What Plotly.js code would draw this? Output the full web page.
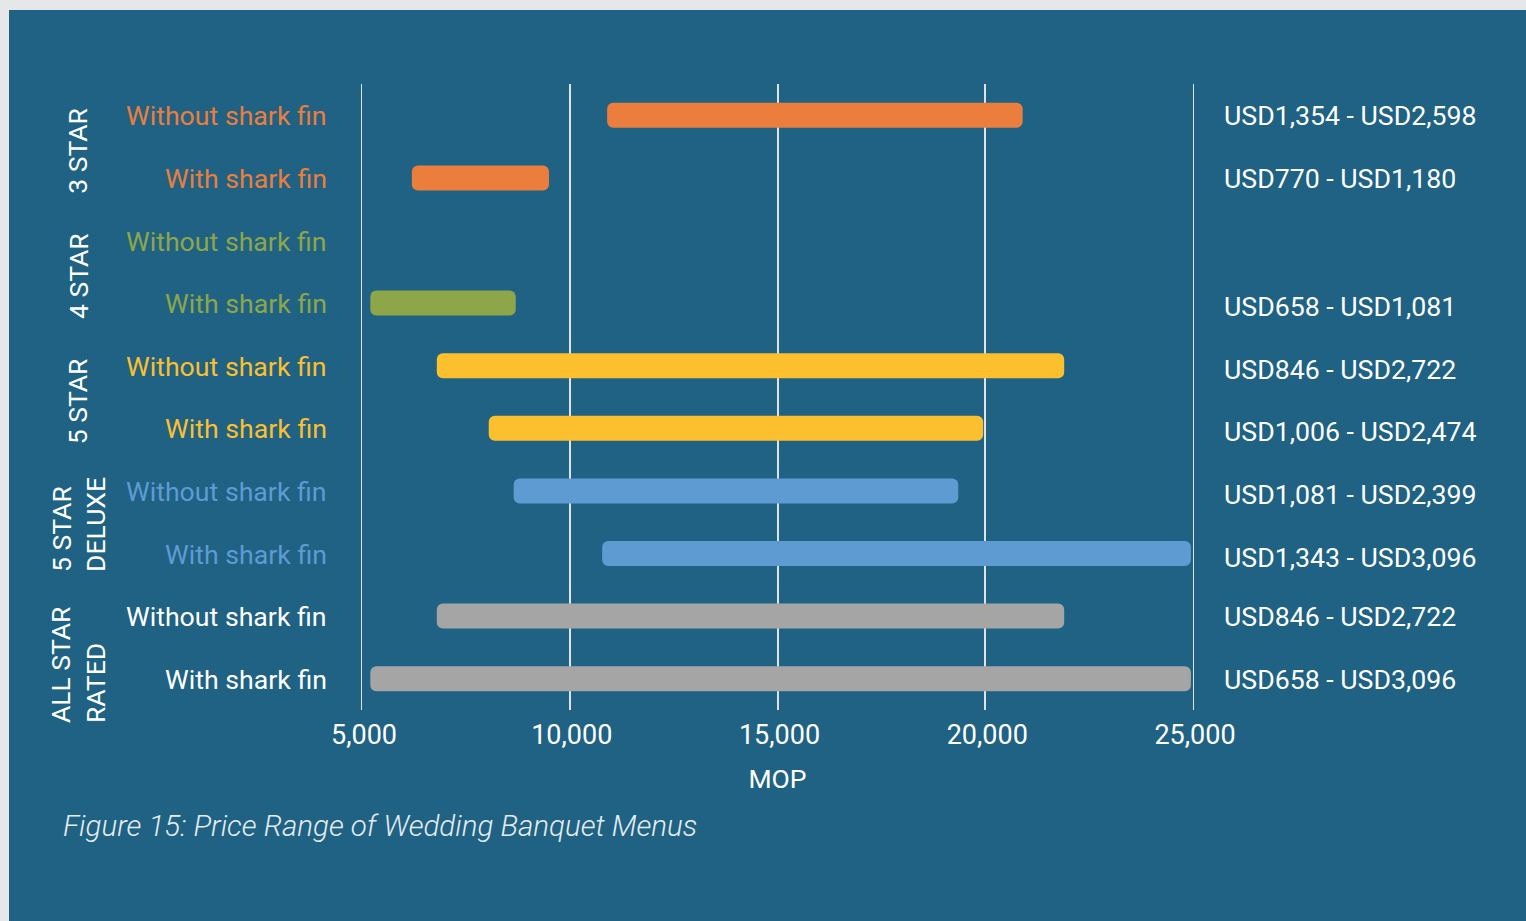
<!DOCTYPE html>
<html>
<head>
<meta charset="utf-8">
<script src="https://cdn.plot.ly/plotly-3.0.1.min.js"></script>
<style>
  html, body { margin: 0; padding: 0; background: #e6e7e9; width: 1526px; height: 921px; overflow: hidden; }
  #chart { position: absolute; left: 9px; top: 10px; width: 1517px; height: 911px; }
</style>
</head>
<body>
<div id="chart"></div>
<script>
// ---- data (MOP) ----
const groups = ["3 STAR", "4 STAR", "5 STAR", "5 STAR<br>DELUXE", "ALL STAR<br>RATED"];
const rowLabels = ["Without shark fin", "With shark fin"];
const groupColors = ["#eb7e3c", "#8ea64a", "#fcbf2e", "#5e9bd3", "#a5a5a5"];
const labelColors = ["#eb7e3c", "#8ea64a", "#fcbf2e", "#5e9bd3", "#ffffff"];
// low / high per row, order: [group][without, with]
const lowMOP  = [10900, 6200, null, 5200, 6800, 8050, 8650, 10780, 6800, 5200];
const highMOP = [20900, 9500, null, 8700, 21900, 19950, 19350, 24950, 21900, 24950];
const usdLabels = ["USD1,354 - USD2,598", "USD770 - USD1,180", "", "USD658 - USD1,081",
                   "USD846 - USD2,722", "USD1,006 - USD2,474", "USD1,081 - USD2,399",
                   "USD1,343 - USD3,096", "USD846 - USD2,722", "USD658 - USD3,096"];
const xTicks = [5000, 10000, 15000, 20000, 25000];
const xTickText = ["5,000", "10,000", "15,000", "20,000", "25,000"];

// ---- build ----
const cats = [];
const rowColors = [];
const rowLabelColors = [];
const rowText = [];
groups.forEach((g, gi) => {
  rowLabels.forEach((r, ri) => {
    cats.push("g" + gi + "r" + ri);
    rowColors.push(groupColors[gi]);
    rowLabelColors.push(labelColors[gi]);
    rowText.push(r);
  });
});

const barX = [], barBase = [], barY = [], barC = [];
cats.forEach((c, i) => {
  if (lowMOP[i] == null) return;
  barY.push(c);
  barBase.push(lowMOP[i]);
  barX.push(highMOP[i] - lowMOP[i]);
  barC.push(rowColors[i]);
});

const FONT = "Roboto, 'Noto Sans', sans-serif";
const GRID = "#dde3e7";

const annotations = [];
cats.forEach((c, i) => {
  annotations.push({
    xref: "paper", yref: "y", x: -0.040, y: c, xanchor: "right", yanchor: "middle",
    text: rowText[i], showarrow: false, yshift: -1,
    font: { family: FONT, size: 26.7, color: rowLabelColors[i] }
  });
  if (usdLabels[i]) {
    annotations.push({
      xref: "paper", yref: "y", x: 1.0349, y: c, xanchor: "left", yanchor: "middle",
      text: usdLabels[i], showarrow: false, yshift: (i > 1 && i < 8) ? -4 : -1,
      font: { family: FONT, size: 26.7, color: "#ffffff" }
    });
  }
});
groups.forEach((g, gi) => {
  const extra = gi === groups.length - 1 ? 0.27 : (gi < 3 ? 0.07 : 0.03);
  annotations.push({
    xref: "paper", yref: "y", x: -0.342, y: gi * 2 + 0.5 + extra,
    xanchor: "center", yanchor: "middle", textangle: -90, align: "left",
    text: g, showarrow: false,
    font: { family: FONT, size: 26.5, color: "#ffffff" }
  });
});
annotations.push({
  xref: "paper", yref: "paper", x: -0.362, y: -0.185, xanchor: "left", yanchor: "middle",
  text: "Figure 15: Price Range of Wedding Banquet Menus", showarrow: false,
  font: { family: FONT, size: 29.5, color: "#e6edf2", style: "italic", weight: 300 }
});

const data = [{
  type: "bar", orientation: "h",
  y: barY, x: barX, base: barBase,
  width: 0.4,
  marker: { color: barC, cornerradius: 6, line: { width: 0 } },
  hoverinfo: "skip"
}];

const layout = {
  width: 1517, height: 911,
  paper_bgcolor: "#1f6283", plot_bgcolor: "#1f6283",
  margin: { l: 353, r: 333, t: 74, b: 211 },
  showlegend: false,
  xaxis: {
    range: [5000, 25000], tickvals: xTicks, ticktext: xTickText,
    showgrid: true, gridcolor: GRID, gridwidth: 2, zeroline: false,
    showline: false, ticks: "", ticklabelstandoff: 6, ticklabelshift: 2,
    tickfont: { family: FONT, size: 27, color: "#ffffff" },
    title: { text: "MOP", font: { family: FONT, size: 26.5, color: "#ffffff" }, standoff: 19 }
  },
  yaxis: {
    type: "category", categoryorder: "array", categoryarray: cats,
    range: [cats.length - 0.5, -0.5], showticklabels: false, showgrid: false,
    zeroline: false, showline: true, mirror: true, linecolor: GRID, linewidth: 1, ticks: ""
  },
  annotations: annotations
};

Plotly.newPlot("chart", data, layout, { staticPlot: true, displayModeBar: false });
</script>
</body>
</html>
